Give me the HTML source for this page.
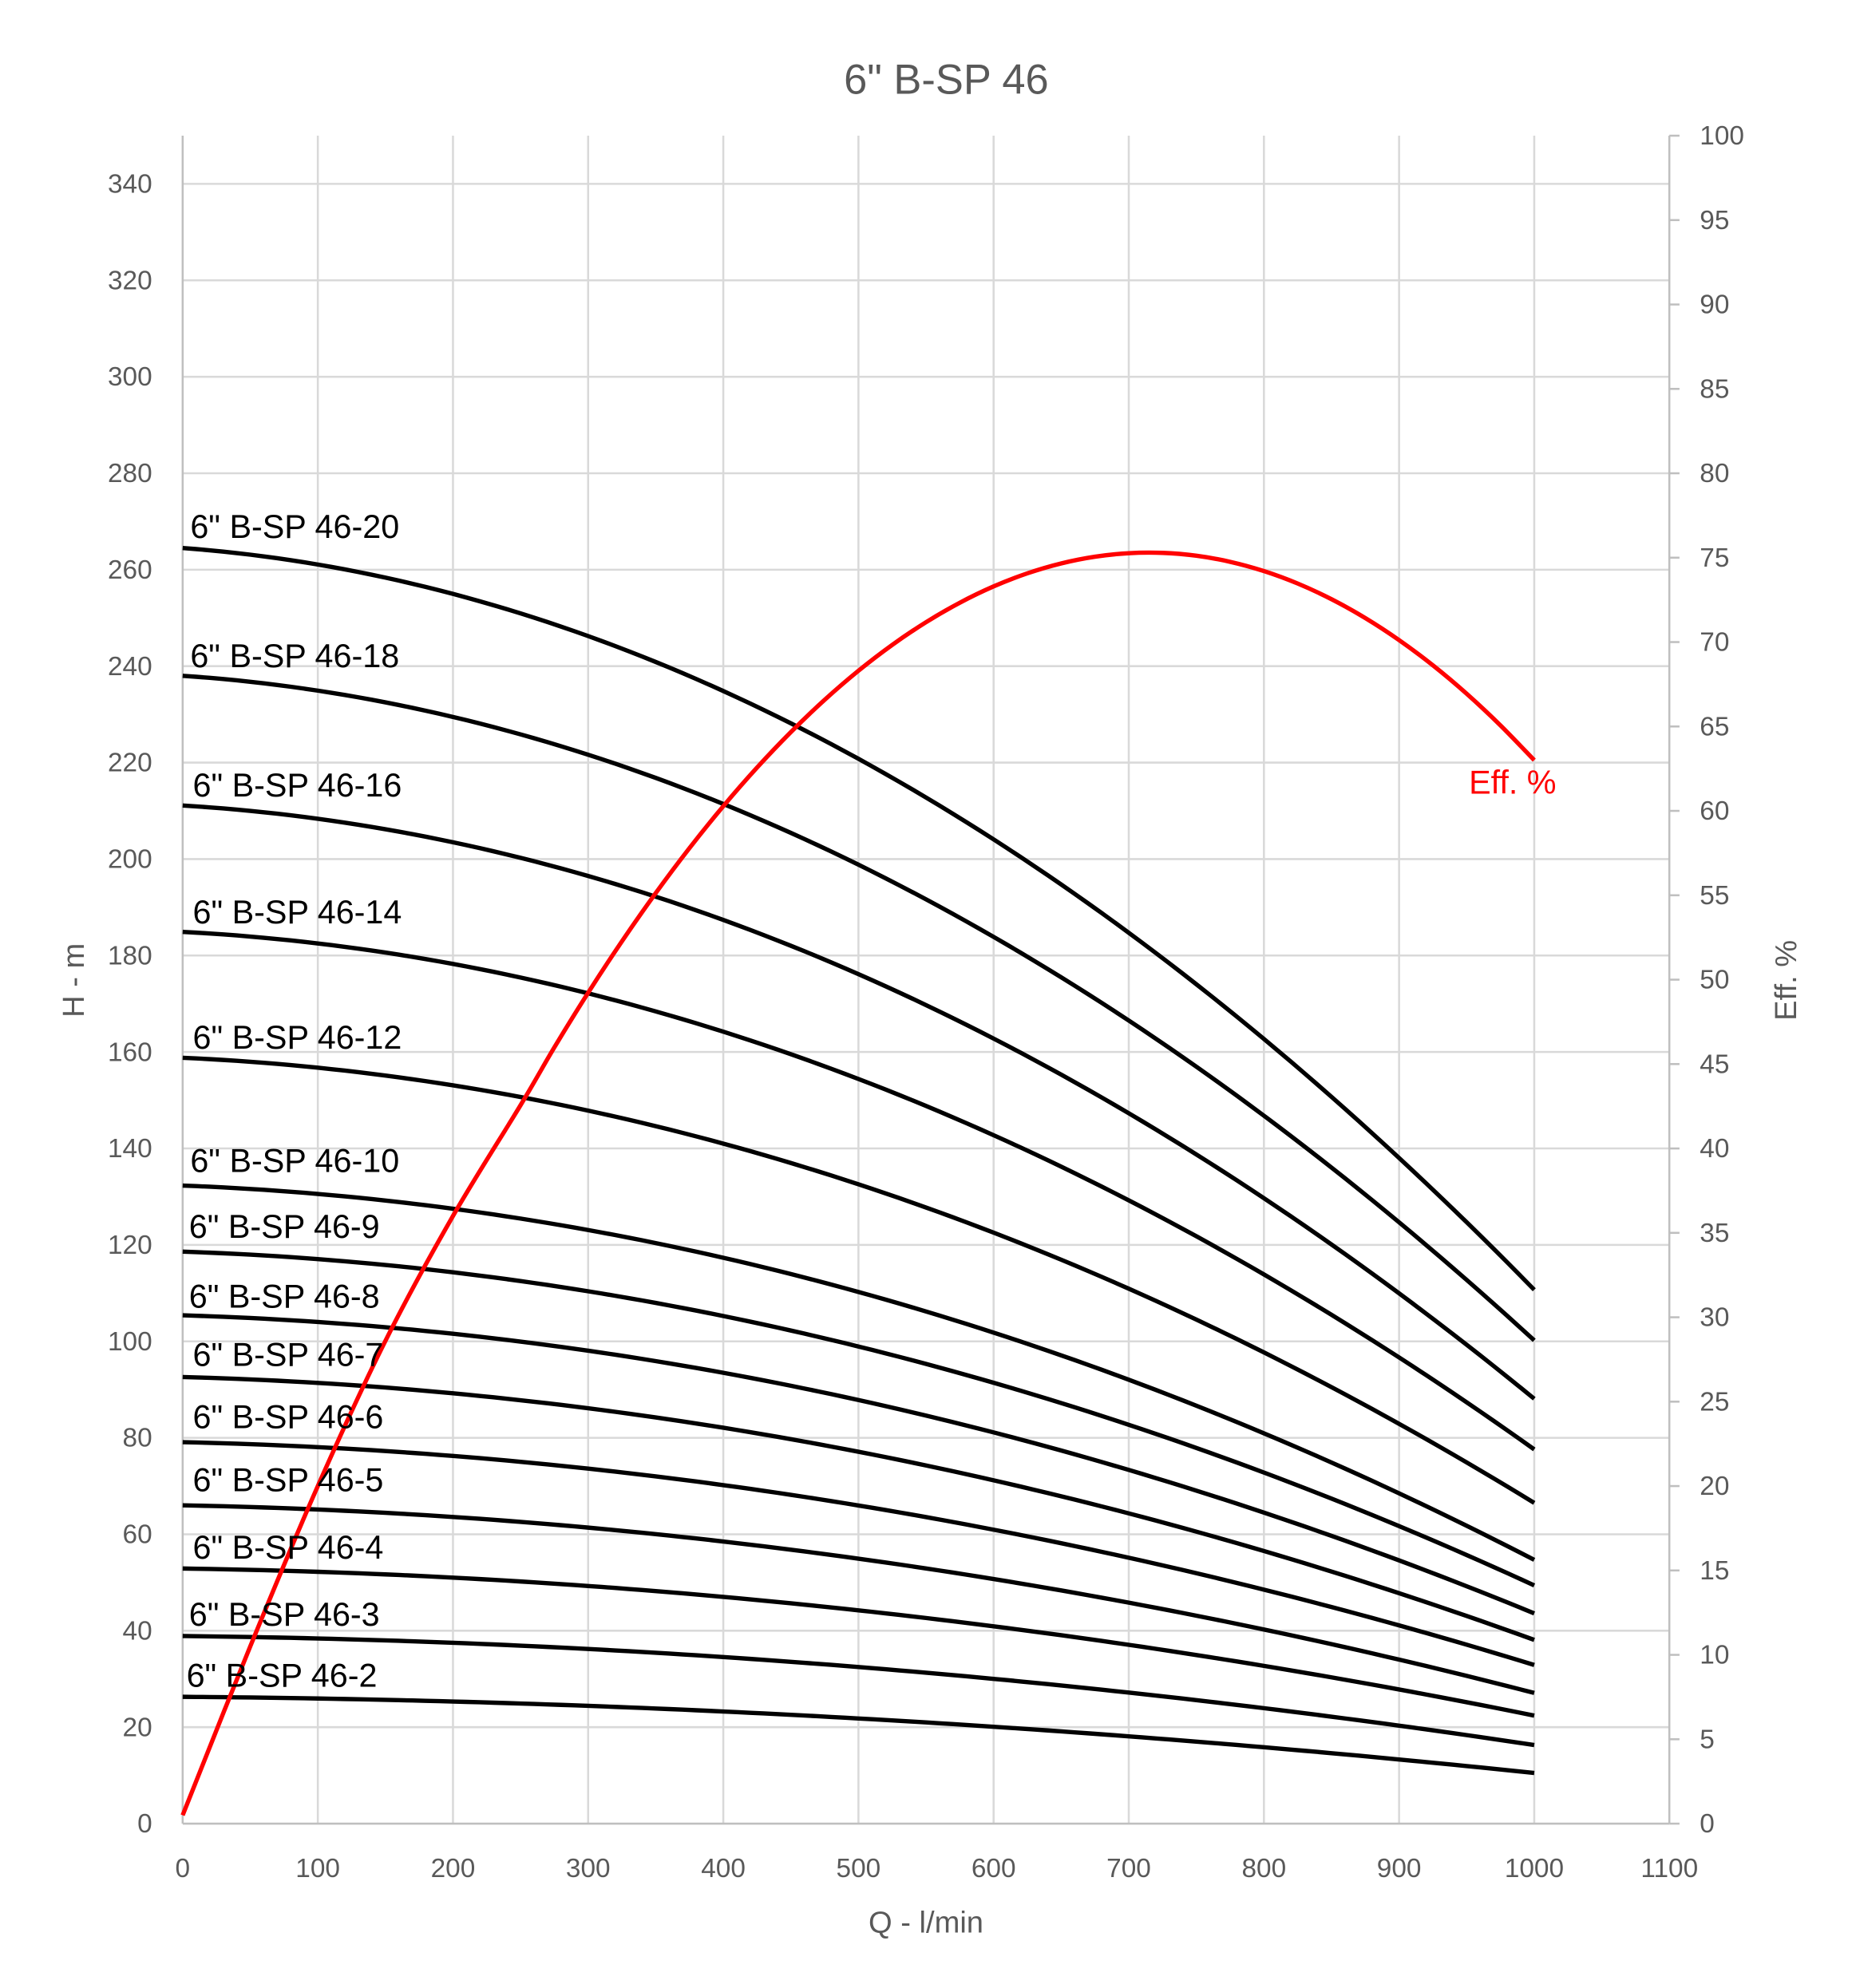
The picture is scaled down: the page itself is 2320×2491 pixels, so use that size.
<!DOCTYPE html>
<html><head><meta charset="utf-8"><style>
html,body{margin:0;padding:0;background:#fff;width:2320px;height:2491px;overflow:hidden}
svg{display:block}
text{font-family:"Liberation Sans Narrow","Liberation Sans",sans-serif}
</style></head><body>
<svg id="c" width="2320" height="2491" viewBox="0 0 1460 1567.6" preserveAspectRatio="none" xmlns="http://www.w3.org/2000/svg">
<g id="grid" stroke="#d9d9d9" stroke-width="1.6" fill="none"></g>
<g id="axes"></g>
<g id="curves" fill="none" stroke="#000" stroke-width="3.4"></g>
<path id="eff" fill="none" stroke="#ff0000" stroke-width="3.4"/>
<g id="labels" font-size="26" fill="#000"></g>
<g id="ticks" font-size="21" fill="#595959"></g>
<text x="746" y="74" font-size="33" fill="#595959" text-anchor="middle">6" B-SP 46</text>
<text x="730" y="1524" font-size="24" fill="#595959" text-anchor="middle">Q - l/min</text>
<text transform="translate(66,773) rotate(-90)" font-size="24" fill="#595959" text-anchor="middle">H - m</text>
<text transform="translate(1416,773) rotate(-90)" font-size="24" fill="#595959" text-anchor="middle">Eff. %</text>
<text x="1158" y="626" font-size="26" fill="#ff0000">Eff. %</text>
</svg>
<script>
var NS="http://www.w3.org/2000/svg";
function el(p,t,a,txt){var e=document.createElementNS(NS,t);for(var k in a)e.setAttribute(k,a[k]);if(txt!=null)e.textContent=txt;p.appendChild(e);return e;}
var X0=144,Y0=1438,YM=3.803,YE=13.31;
function Xq(q){return X0+q*1.0655}
function Ym(h){return Y0-h*YM}
function Ye(e){return Y0-e*YE}
var g=document.getElementById('grid'),ax=document.getElementById('axes'),tk=document.getElementById('ticks');
for(var q=100;q<=1000;q+=100)el(g,'line',{x1:Xq(q),x2:Xq(q),y1:107,y2:Y0});
for(var h=20;h<=340;h+=20)el(g,'line',{x1:X0,x2:1316,y1:Ym(h),y2:Ym(h)});
el(ax,'line',{x1:X0,x2:X0,y1:107,y2:Y0,stroke:'#bfbfbf','stroke-width':1.6});
el(ax,'line',{x1:1316,x2:1316,y1:107,y2:Y0,stroke:'#bfbfbf','stroke-width':1.6});
el(ax,'line',{x1:X0,x2:1316,y1:Y0,y2:Y0,stroke:'#bfbfbf','stroke-width':1.6});
for(var e=0;e<=100;e+=5){el(ax,'line',{x1:1316,x2:1324,y1:Ye(e),y2:Ye(e),stroke:'#bfbfbf','stroke-width':1.6});
 el(tk,'text',{x:1340,y:Ye(e)+7},String(e));}
for(var h=0;h<=340;h+=20)el(tk,'text',{x:120,y:Ym(h)+7,'text-anchor':'end'},String(h));
for(var q=0;q<=1100;q+=100)el(tk,'text',{x:Xq(q),y:1480,'text-anchor':'middle'},String(q));
var data=[[20,264.5,110.7,150,424],[18,238.0,100.2,150,526],[16,211.1,88.1,152,628],[14,184.9,77.6,152,728],[12,158.8,66.5,152,827],[10,132.3,54.7,150,924],[9,118.6,49.4,149,976],[8,105.4,43.6,149,1031],[7,92.6,38.1,152,1077],[6,79.1,32.9,152,1126],[5,66.0,27.1,152,1176],[4,52.9,22.4,152,1229],[3,38.9,16.3,149,1282],[2,26.3,10.5,147,1330]];
var cv=document.getElementById('curves'),lb=document.getElementById('labels');
function f(q){q/=1000;return (1.05*q+6.62*q*q)/7.67;}
data.forEach(function(d){var s='';for(var q=0;q<=1000;q+=10){var h=d[1]+(d[2]-d[1])*f(q);s+=(q?'L':'M')+Xq(q).toFixed(2)+','+Ym(h).toFixed(2);}
 el(cv,'path',{d:s});el(lb,'text',{x:d[3],y:d[4]},'6" B-SP 46-'+d[0]);});
var P=[[0,0.5],[50,10.5],[100,20],[150,28.6],[200,36]];
for(var q=250;q<=1000;q+=25)P.push([q,75.3-1.514e-4*(q-715)*(q-715)]);
var pts=P.map(function(p){return [Xq(p[0]),Ye(p[1])]});
var s='M'+pts[0][0]+','+pts[0][1];
for(var i=0;i<pts.length-1;i++){var p0=pts[Math.max(0,i-1)],p1=pts[i],p2=pts[i+1],p3=pts[Math.min(pts.length-1,i+2)];
 s+='C'+(p1[0]+(p2[0]-p0[0])/6)+','+(p1[1]+(p2[1]-p0[1])/6)+' '+(p2[0]-(p3[0]-p1[0])/6)+','+(p2[1]-(p3[1]-p1[1])/6)+' '+p2[0]+','+p2[1];}
document.getElementById('eff').setAttribute('d',s);
</script>
</body></html>
